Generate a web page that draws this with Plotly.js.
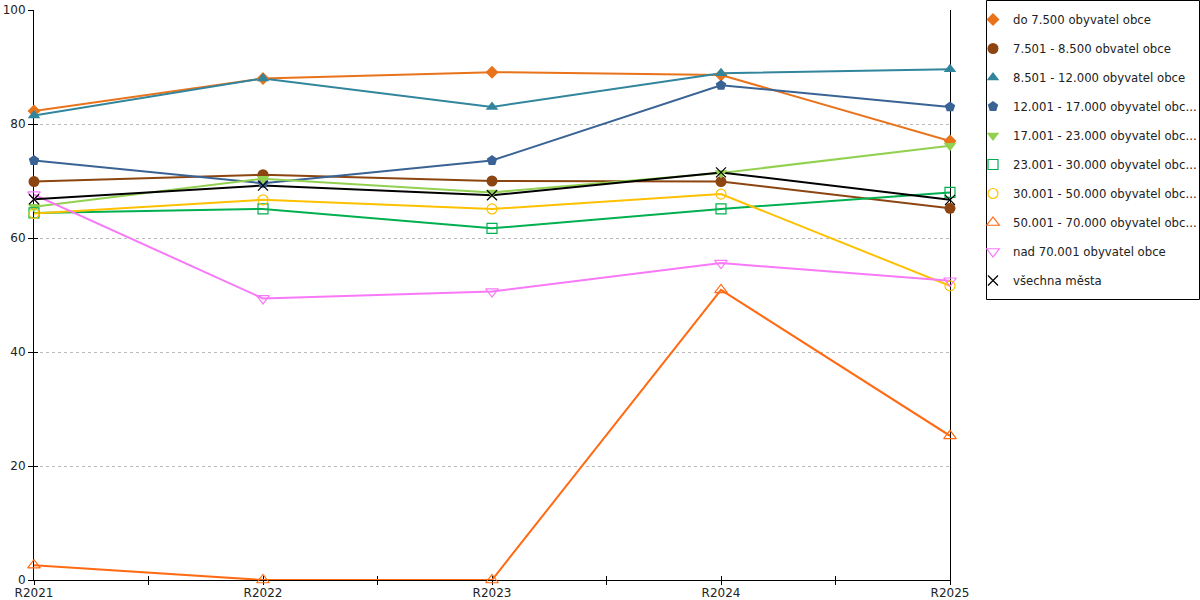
<!DOCTYPE html>
<html>
<head>
<meta charset="utf-8">
<script src="https://cdn.plot.ly/plotly-3.0.1.min.js"></script>
<style>html,body{margin:0;padding:0;background:#fff;}#chart{width:1200px;height:600px;}</style>
</head>
<body>
<div id="chart"></div>
<script>
// categories
const years = ["R2021", "R2022", "R2023", "R2024", "R2025"];

// series names (as displayed in the legend)
const seriesNames = [
  "do 7.500 obyvatel obce",
  "7.501 - 8.500 obvatel obce",
  "8.501 - 12.000 obyvatel obce",
  "12.001 - 17.000 obyvatel obc...",
  "17.001 - 23.000 obyvatel obc...",
  "23.001 - 30.000 obyvatel obc...",
  "30.001 - 50.000 obyvatel obc...",
  "50.001 - 70.000 obyvatel obc...",
  "nad 70.001 obyvatel obce",
  "všechna města"
];

// series values
const do7500      = [82.3, 88.0, 89.1, 88.6, 77.0];
const s7501_8500  = [69.9, 71.1, 70.0, 69.9, 65.2];
const s8501_12000 = [81.5, 88.0, 83.0, 88.9, 89.6];
const s12001_17000 = [73.6, 69.6, 73.6, 86.8, 83.0];
const s17001_23000 = [65.5, 70.4, 68.0, 71.4, 76.2];
const s23001_30000 = [64.4, 65.1, 61.7, 65.1, 68.0];
const s30001_50000 = [64.3, 66.7, 65.1, 67.7, 51.6];
const s50001_70000 = [2.6, 0, 0, 50.9, 25.3];
const nad70001    = [67.6, 49.4, 50.6, 55.6, 52.5];
const vsechna     = [66.8, 69.2, 67.5, 71.5, 66.7];

const seriesValues = [do7500, s7501_8500, s8501_12000, s12001_17000, s17001_23000,
  s23001_30000, s30001_50000, s50001_70000, nad70001, vsechna];

// y tick values
const yTicks = [0, 20, 40, 60, 80, 100];

const colors = ["#E8731A", "#8C4510", "#31859C", "#3A6395", "#92D050",
  "#00B050", "#FFC000", "#FF6A13", "#F878F8", "#000000"];
const symbols = ["diamond", "circle", "triangle-up", "pentagon", "triangle-down",
  "square-open", "circle-open", "triangle-up-open", "triangle-down-open", "x-thin-open"];
const sizes = [10, 11, 11, 11, 11, 10, 10, 11, 11, 10];

const xIdx = years.map((_, i) => i);
const tickPos = [];
const tickTxt = [];
years.forEach((y, i) => {
  tickPos.push(i); tickTxt.push(y);
  if (i < years.length - 1) { tickPos.push(i + 0.5); tickTxt.push(""); }
});

const traces = [];
seriesValues.forEach((vals, k) => {
  traces.push({
    x: xIdx, y: vals, mode: "lines", type: "scatter",
    line: {color: colors[k], width: 2}, showlegend: false, hoverinfo: "skip",
    cliponaxis: false
  });
});
seriesValues.forEach((vals, k) => {
  traces.push({
    x: xIdx, y: vals, mode: "markers", type: "scatter", name: seriesNames[k],
    legendgroup: "g" + k,
    marker: {color: colors[k], symbol: symbols[k], size: sizes[k],
      line: {color: colors[k], width: (symbols[k].indexOf("open") >= 0 ? 1.2 : 0)}},
    cliponaxis: false
  });
});
// helper trace so the overlay axes (inner tick halves) are drawn
traces.push({x: [], y: [], xaxis: "x2", yaxis: "y2", showlegend: false, type: "scatter", mode: "markers"});

const fontFam = "DejaVu Sans, Verdana, sans-serif";
// page geometry
const ML = 34, MB = 20, PW = 1200 - ML, PH = 600 - MB;
const plotRight = 950, plotTop = 10;
const px = v => (v - ML) / PW;
const py = v => (PH - v) / PH;
const xDom = [0, px(plotRight)];
const yDom = [0, py(plotTop)];

const layout = {
  width: 1200, height: 600,
  margin: {l: ML, r: 0, t: 0, b: MB, pad: 0, autoexpand: false},
  paper_bgcolor: "#fff", plot_bgcolor: "#fff",
  font: {family: fontFam, size: 12, color: "#222"},
  showlegend: true,
  xaxis: {
    domain: xDom,
    range: [0, 4], tickmode: "array", tickvals: tickPos, ticktext: tickTxt,
    ticks: "outside", ticklen: 4, tickcolor: "#000", tickwidth: 1,
    showline: true, linecolor: "#000", linewidth: 1, showgrid: false, zeroline: false,
    layer: "below traces", tickfont: {size: 12, color: "#222"}, fixedrange: true,
    ticklabelstandoff: -2
  },
  xaxis2: {
    domain: xDom,
    range: [0, 4], overlaying: "x", tickmode: "array", tickvals: tickPos,
    ticks: "inside", ticklen: 4, tickcolor: "#000", showticklabels: false,
    showline: false, showgrid: false, zeroline: false, layer: "below traces"
  },
  yaxis: {
    domain: yDom,
    range: [0, 100], tickmode: "array", tickvals: yTicks,
    ticks: "outside", ticklen: 5, tickcolor: "#000",
    showline: true, linecolor: "#000", linewidth: 1, mirror: true,
    showgrid: true, gridcolor: "#BBBBBB", griddash: "dot", gridwidth: 1,
    zeroline: false, layer: "below traces", tickfont: {size: 12, color: "#222"}, fixedrange: true
  },
  yaxis2: {
    domain: yDom,
    range: [0, 100], overlaying: "y", tickmode: "array", tickvals: yTicks,
    ticks: "inside", ticklen: 4, tickcolor: "#000", showticklabels: false,
    showline: false, showgrid: false, zeroline: false, layer: "below traces"
  },
  legend: {
    x: px(973), xanchor: "left", y: py(5), yanchor: "top",
    bgcolor: "rgba(0,0,0,0)", borderwidth: 0,
    font: {family: fontFam, size: 11.7, color: "#222"},
    tracegroupgap: 10, itemclick: false
  },
  shapes: [{
    type: "rect", xref: "paper", yref: "paper",
    x0: px(986.5), x1: px(1199.5), y0: py(299.5), y1: py(0.5),
    line: {color: "#000", width: 1}, fillcolor: "rgba(0,0,0,0)", layer: "below"
  }]
};

Plotly.newPlot("chart", traces, layout, {displayModeBar: false, staticPlot: true});
</script>
</body>
</html>
